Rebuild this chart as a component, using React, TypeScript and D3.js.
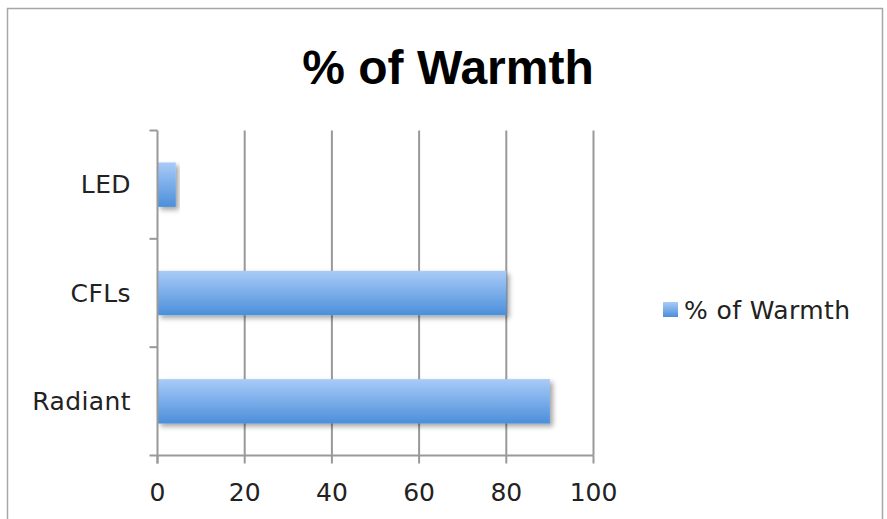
import * as d3 from "d3";

const categories = ["Radiant", "CFLs", "LED"];
const values = [90, 80, 4.2];
const xTicks = [0, 20, 40, 60, 80, 100];
const seriesName = "% of Warmth";
const chartTitle = "% of Warmth";

const W = 887;
const H = 519;
const M = { left: 157.5, right: 593.5, top: 130.5, bottom: 455.5 };
const FONT = "'DejaVu Sans', sans-serif";

export default function App() {
  const x = d3.scaleLinear().domain([0, 100]).range([M.left, M.right]);
  const y = d3
    .scaleBand<string>()
    .domain([...categories].reverse())
    .range([M.top, M.bottom])
    .paddingInner(0.59)
    .paddingOuter(0.295);
  const band = d3
    .scaleBand<string>()
    .domain([...categories].reverse())
    .range([M.top, M.bottom]);
  const bandEdges = [...band.domain().map((c) => band(c)!), M.bottom];

  return (
    <svg
      width={W}
      height={H}
      style={{ position: "absolute", left: 0, top: 0, background: "#fff" }}
    >
      <defs>
        <linearGradient id="barGrad" x1="0" y1="0" x2="0" y2="1">
          <stop offset="0%" stopColor="#a9cbf8" />
          <stop offset="100%" stopColor="#4b8fda" />
        </linearGradient>
        <filter id="shadow" x="-10%" y="-20%" width="130%" height="160%">
          <feDropShadow dx="3" dy="3" stdDeviation="2.5" floodColor="#000" floodOpacity="0.35" />
        </filter>
      </defs>

      <rect x={7.5} y={8.5} width={875} height={530} fill="#fff" stroke="#a6a6a6" strokeWidth={1.5} />

      <text
        x={448}
        y={84}
        textAnchor="middle"
        fontFamily="'Liberation Sans', Arial, sans-serif"
        fontWeight="bold"
        fontSize={48}
        fill="#000"
      >
        {chartTitle}
      </text>

      {/* vertical grid */}
      {xTicks.slice(1).map((t) => (
        <line key={t} x1={x(t)} x2={x(t)} y1={M.top} y2={M.bottom} stroke="#999" strokeWidth={2} />
      ))}

      {/* bars */}
      {categories.map((c, i) => (
        <rect
          key={c}
          x={x(0)}
          y={y(c)}
          width={x(values[i]) - x(0)}
          height={y.bandwidth()}
          fill="url(#barGrad)"
          filter="url(#shadow)"
        />
      ))}

      {/* y axis */}
      <line x1={M.left} x2={M.left} y1={M.top} y2={M.bottom + 8} stroke="#999" strokeWidth={2} />
      {bandEdges.map((e, i) => (
        <line key={i} x1={M.left - 8} x2={M.left} y1={e} y2={e} stroke="#999" strokeWidth={2} />
      ))}
      {categories.map((c) => (
        <text
          key={c}
          x={131}
          y={band(c)! + band.bandwidth() / 2}
          dy="0.35em"
          textAnchor="end"
          fontFamily={FONT}
          fontSize={25}
          letterSpacing={0.4}
          fill="#222"
        >
          {c}
        </text>
      ))}

      {/* x axis */}
      <line x1={M.left} x2={x(100)} y1={M.bottom} y2={M.bottom} stroke="#999" strokeWidth={2} />
      {xTicks.map((t) => (
        <g key={t}>
          <line x1={x(t)} x2={x(t)} y1={M.bottom} y2={M.bottom + 8} stroke="#999" strokeWidth={2} />
          <text
            x={x(t)}
            y={501}
            textAnchor="middle"
            fontFamily={FONT}
            fontSize={25}
            fill="#222"
          >
            {t}
          </text>
        </g>
      ))}

      {/* legend */}
      <rect x={663} y={302} width={15} height={15} fill="url(#barGrad)" />
      <text x={684} y={310} dy="0.35em" fontFamily={FONT} fontSize={25} letterSpacing={0.4} fill="#222">
        {seriesName}
      </text>
    </svg>
  );
}
